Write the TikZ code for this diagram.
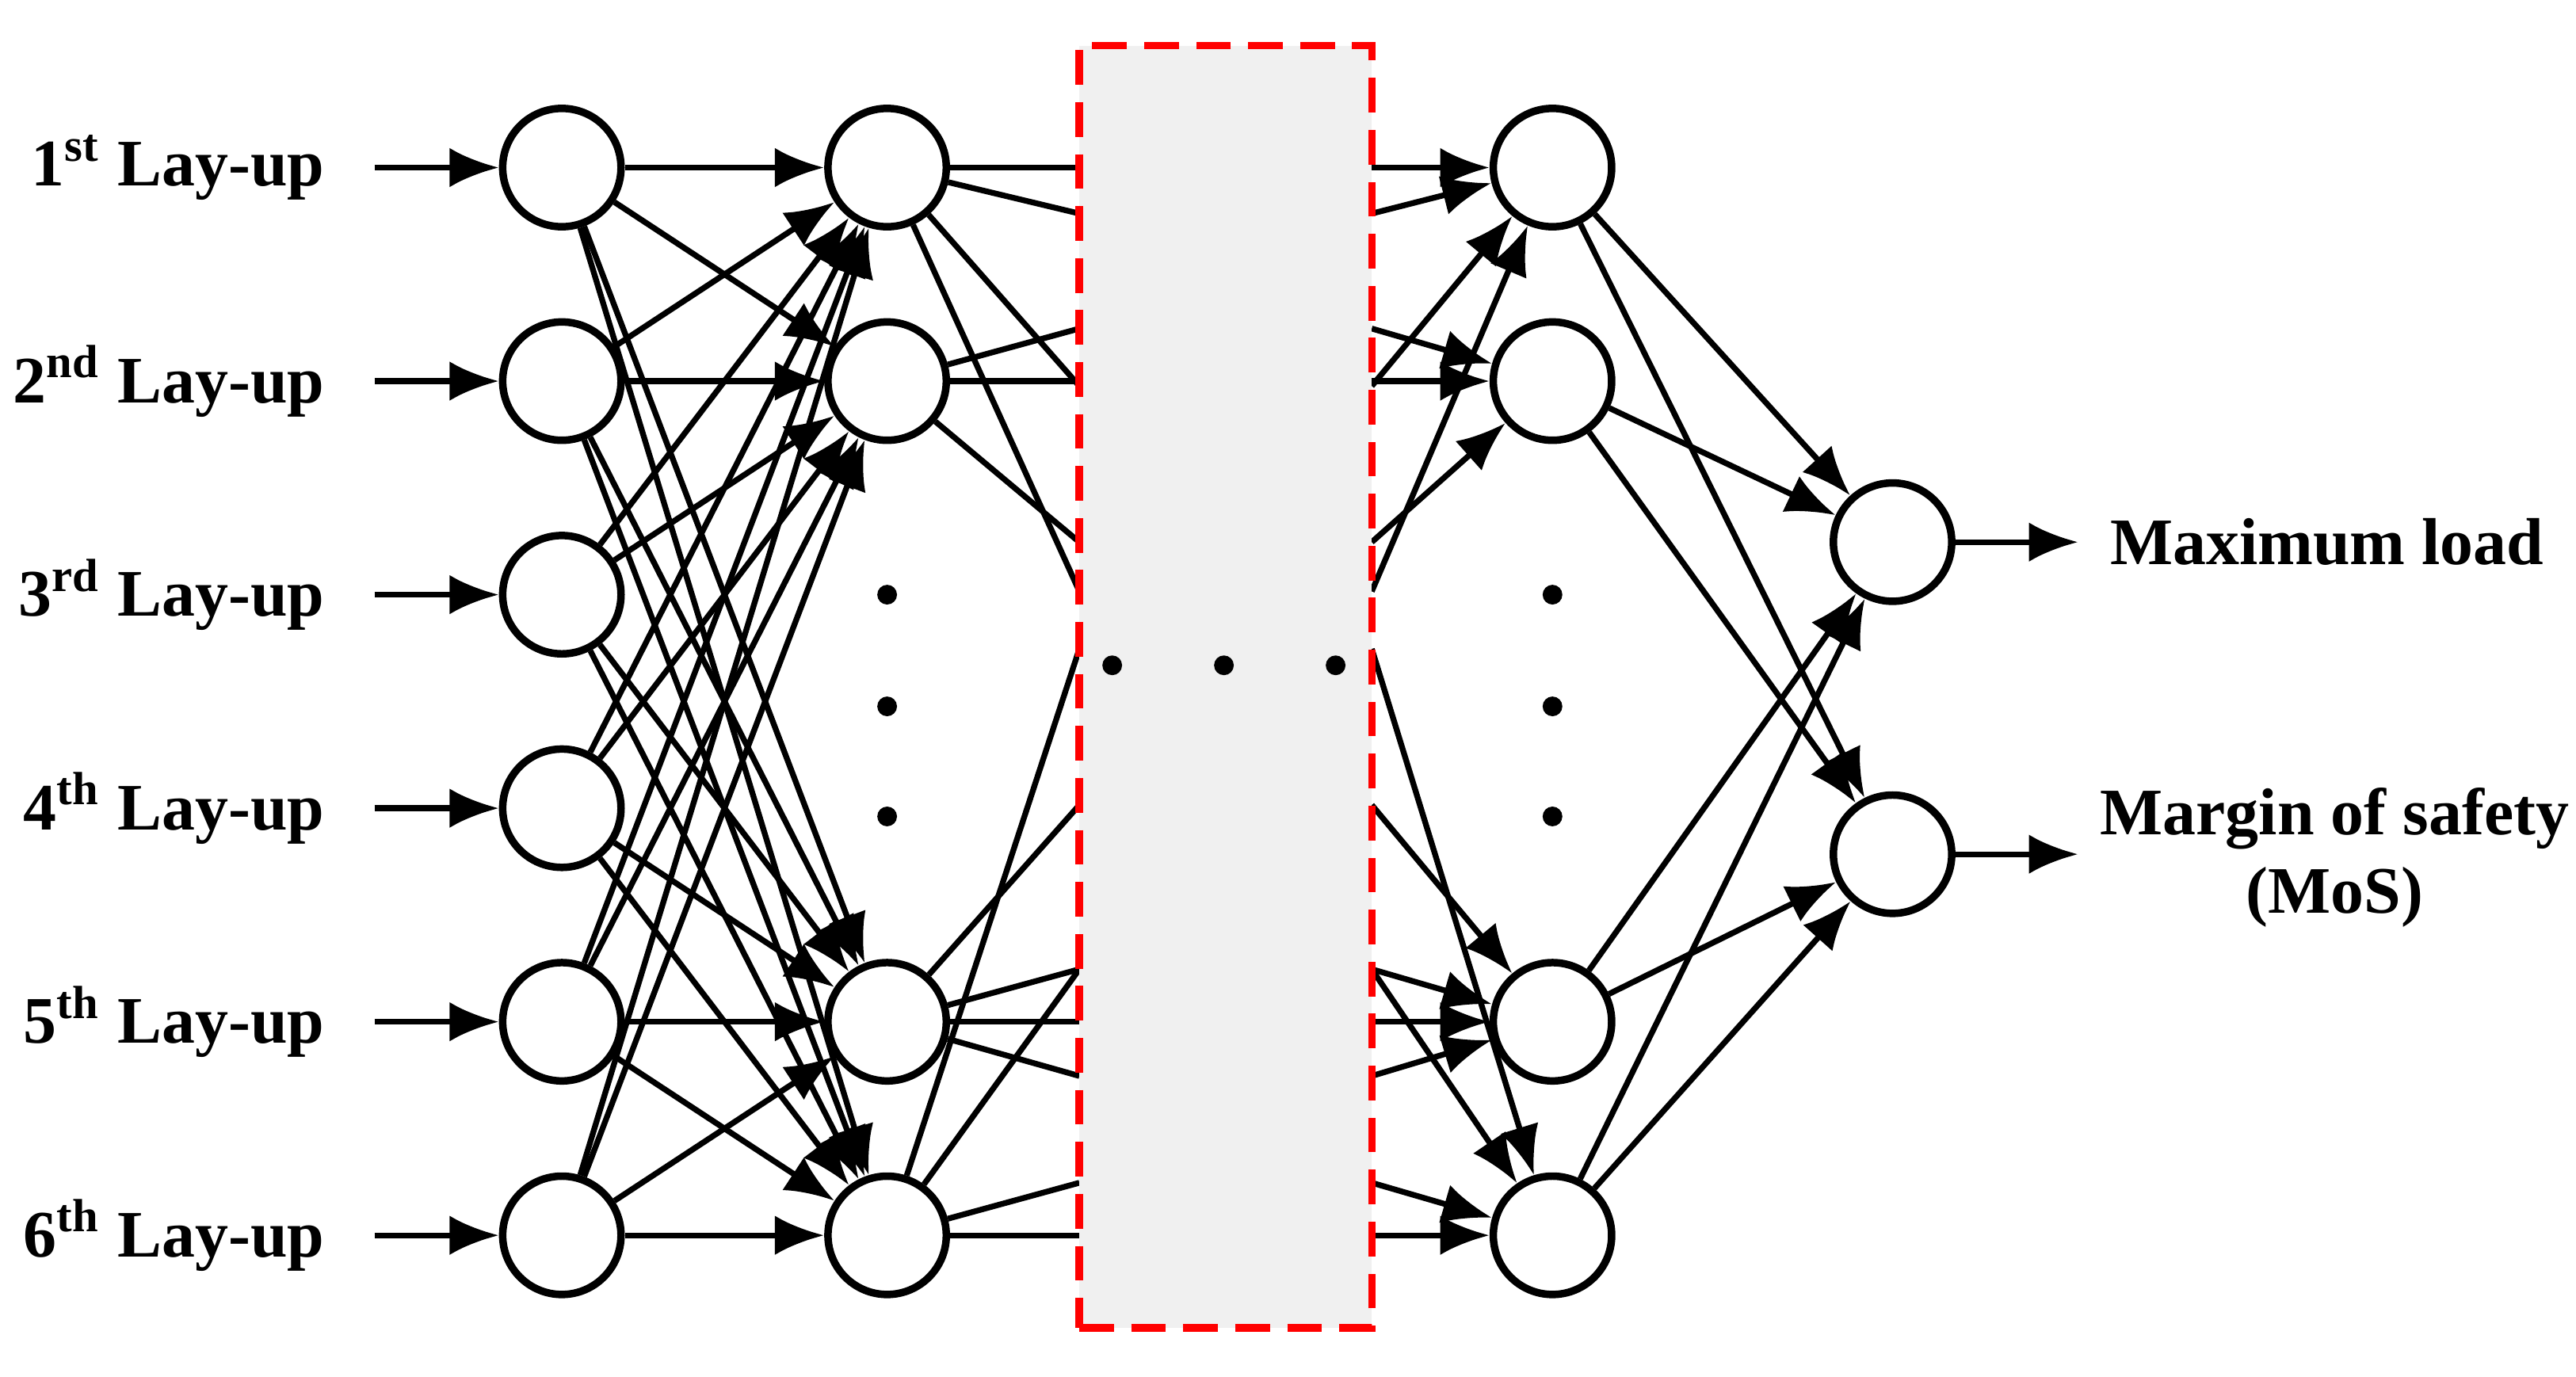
\documentclass[tikz,border=0pt]{standalone}
\usepackage{fontspec}
\setmainfont{Liberation Serif}
\usetikzlibrary{arrows.meta}
\begin{document}
\begin{tikzpicture}[x=0.01cm,y=-0.01cm,
  neu/.style={circle,draw,line width=1.3pt,minimum size=0.72cm,inner sep=0pt,fill=white},
  con/.style={line width=1pt},
  arr/.style={con,-{Latex[length=0.3cm,width=0.24cm]}},
  lab/.style={font=\bfseries\fontsize{11.5}{13.5}\selectfont},
  dot/.style={circle,fill,inner sep=0pt,minimum size=0.12cm}]
\useasboundingbox (0,0) rectangle (1568,838);
\foreach \i/\y in {1/102,2/232,3/362,4/492,5/622,6/752}{
  \node[neu] (a\i) at (342,\y) {};
}
\foreach \i/\y in {1/102,2/232,5/622,6/752}{
  \node[neu] (b\i) at (540,\y) {};
  \node[neu] (c\i) at (945,\y) {};
}
\node[neu] (o1) at (1152,330) {};
\node[neu] (o2) at (1152,520) {};
\foreach \i/\t/\s in {1/1/st,2/2/nd,3/3/rd,4/4/th,5/5/th,6/6/th}{
  \node[lab,anchor=east] (l\i) at (210,{102+130*(\i-1)}) {\t\textsuperscript{\s} Lay-up};
  \coordinate (s\i) at (228,{102+130*(\i-1)});
  \draw[arr] (s\i) -- (a\i);
}
\foreach \i in {1,...,6}{\foreach \j in {1,2,5,6}{\draw[arr] (a\i) -- (b\j);}}
\foreach \j/\ys in {1/{102,130,235,360},2/{200,232,330},5/{490,590,622,655},6/{395,590,720,752}}{
  \foreach \y in \ys {\coordinate (p) at (657,\y); \draw[con] (b\j) -- (p);}
}
\foreach \j/\ys in {1/{102,130,235,360},2/{200,232,330},5/{490,590,622,655},6/{395,590,720,752}}{
  \foreach \y in \ys {\coordinate (q) at (835,\y); \draw[arr] (q) -- (c\j);}
}
\foreach \j in {1,2,5,6}{\draw[arr] (c\j) -- (o1); \draw[arr] (c\j) -- (o2);}
\node[draw=red,dash pattern=on 6pt off 3pt,line width=1.3pt,fill=gray!12,minimum width=1.78cm,minimum height=7.8cm,inner sep=0pt] (box) at (746,418) {};
\foreach \x/\n in {677/1,745/2,813/3}{\node[dot] (d\n) at (\x,405) {};}
\foreach \y/\n in {362/1,430/2,497/3}{\node[dot] (e\n) at (540,\y) {}; \node[dot] (f\n) at (945,\y) {};}
\coordinate (t1) at (1265,330); \coordinate (t2) at (1265,520);
\draw[arr] (o1) -- (t1); \draw[arr] (o2) -- (t2);
\node[lab,anchor=west] (m1) at (1272,330) {Maximum load};
\node[lab,anchor=west,align=center] (m2) at (1266,522) {Margin of safety\\(MoS)};
\end{tikzpicture}
\end{document}
